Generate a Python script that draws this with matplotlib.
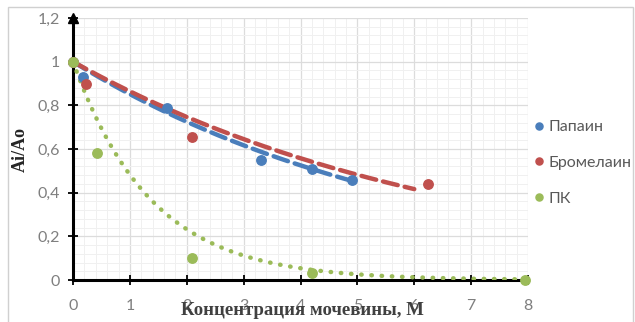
import matplotlib.pyplot as plt
import numpy as np
from matplotlib.ticker import FuncFormatter, MultipleLocator

# urea concentration, M / residual activity Ai/Ao
papain_x = [0, 0.17, 1.65, 3.3, 4.2, 4.9]
papain_y = [1.0, 0.93, 0.79, 0.55, 0.51, 0.46]
bromelain_x = [0, 0.23, 2.1, 6.25]
bromelain_y = [1.0, 0.90, 0.655, 0.44]
pk_x = [0, 0.42, 2.1, 4.2, 7.95]
pk_y = [1.0, 0.58, 0.10, 0.03, 0.0]

# exponential trend lines y = a*exp(-k*x) and the x range they cover
papain_trend = (1.0, 0.161, 4.9)
bromelain_trend = (1.0, 0.146, 6.0)
pk_trend = (1.0, 0.73, 8.0)

labels = ['Папаин', 'Бромелаин', 'ПК']
colors = ['#4a7ebb', '#c0504d', '#9bbb59']


def comma(v, pos):
    s = ('%.1f' % v).rstrip('0').rstrip('.')
    return s.replace('.', ',')


fig = plt.figure(figsize=(6.35, 3.22), dpi=100)
# outer chart frame
fig.patches.append(plt.Rectangle((0.013, -0.05), 0.984, 1.028, transform=fig.transFigure,
                                 fill=False, edgecolor='#d0d0d0', lw=1))

ax = fig.add_axes([0.115, 0.1304, 0.7165, 0.8136])
ax.set_xlim(0, 8)
ax.set_ylim(0, 1.2)

ax.xaxis.set_major_locator(MultipleLocator(1))
ax.xaxis.set_minor_locator(MultipleLocator(0.2))
ax.yaxis.set_major_locator(MultipleLocator(0.2))
ax.yaxis.set_minor_locator(MultipleLocator(0.04))
ax.grid(which='major', color='#dcdcdc', lw=0.9)
ax.grid(which='minor', color='#f0f0f0', lw=0.7)
ax.set_axisbelow(True)
ax.yaxis.set_major_formatter(FuncFormatter(comma))

for side in ['top', 'right']:
    ax.spines[side].set_visible(False)
for side in ['left', 'bottom']:
    ax.spines[side].set_linewidth(2.2)
    ax.spines[side].set_color('black')
ax.tick_params(which='major', direction='inout', length=7, width=1.3, color='black',
               labelcolor='#7f7f7f', labelsize=11.5)
ax.tick_params(axis='x', pad=10)
ax.tick_params(axis='y', pad=6)
ax.tick_params(which='minor', length=0)
for t in ax.get_xticklabels() + ax.get_yticklabels():
    t.set_family(['Lato', 'DejaVu Sans'])
ax.plot(0, 1, marker='^', color='black', markersize=7, transform=ax.get_xaxis_transform(),
        clip_on=False, zorder=6)

series = [(papain_x, papain_y, papain_trend, (0, (3.4, 1.6))),
          (bromelain_x, bromelain_y, bromelain_trend, (0, (3.4, 1.6))),
          (pk_x, pk_y, pk_trend, (0, (0.1, 2.2)))]
for (xs, ys, (a, k, xmax), ls), lab, c in zip(series, labels, colors):
    tx = np.linspace(0, xmax, 200)
    ax.plot(tx, a * np.exp(-k * tx), color=c, lw=3.2, linestyle=ls,
            dash_capstyle='round', solid_capstyle='round', zorder=3)
    ax.plot(xs, ys, 'o', color=c, markersize=6.8, label=lab, clip_on=False, zorder=4)

leg = ax.legend(loc='center left', bbox_to_anchor=(0.995, 0.447), frameon=False,
                borderaxespad=0, handletextpad=0.2, handlelength=0.8, labelspacing=1.35,
                prop={'family': ['Lato', 'DejaVu Sans'], 'size': 11.5},
                markerscale=0.75)
for t in leg.get_texts():
    t.set_color('#595959')

ax.set_ylabel('Ai/Ao', family='Liberation Serif', fontweight='bold', fontsize=13,
              color='#262626', labelpad=6)
fig.text(0.477, 0.035, 'Концентрация мочевины, М', family='Liberation Serif',
         fontweight='bold', fontsize=13.5, color='#404040', ha='center', va='center')

fig.savefig('out.png', dpi=100)
